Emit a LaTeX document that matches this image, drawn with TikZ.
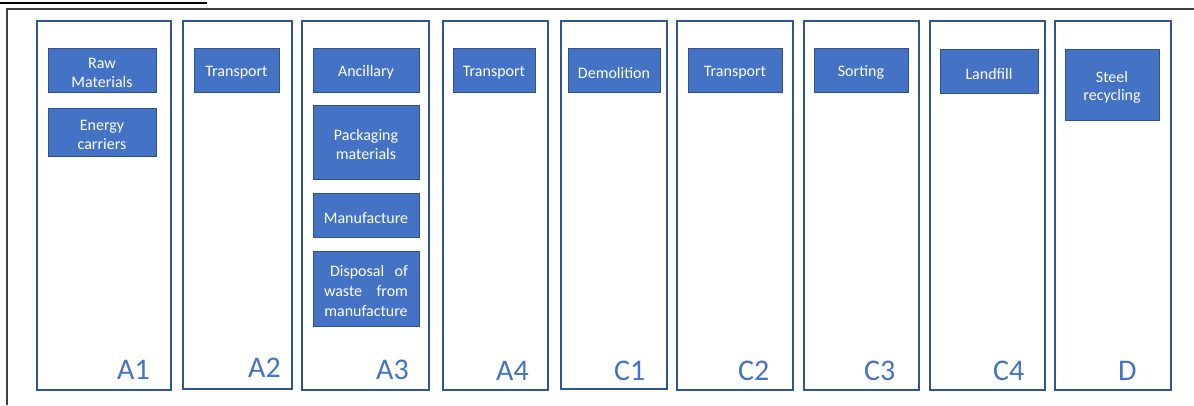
\documentclass[tikz,border=0pt]{standalone}
\usepackage{fontspec}
\setmainfont{Carlito}
\usetikzlibrary{fit}
\definecolor{blkfill}{HTML}{4472C4}
\definecolor{blkline}{HTML}{2F528F}
\definecolor{colline}{HTML}{2F5597}
\definecolor{framegrey}{HTML}{404040}
% strut that lowers a block's text a little
\newcommand{\blkstrut}{\rule{0pt}{16.5pt}}
\begin{document}
\begin{tikzpicture}[x=1pt,y=-1pt,
  stagecol/.style={draw=colline, line width=2pt, inner sep=0pt, fill=white},
  blk/.style={draw=blkline, line width=0.9pt, fill=blkfill, inner sep=0pt,
    text=white, align=center, font=\fontsize{16}{18.5}\selectfont},
  stagelabel/.style={anchor=base west, inner sep=0pt, text=blkfill,
    font=\fontsize{30}{32}\selectfont}]
\useasboundingbox (0,0) rectangle (1194,405);
% page rule and frame
\draw[black, line width=2pt] (0,2.5) -- (207,2.5);
\coordinate (ftl) at (7,9);
\coordinate (ftr) at (1194,9);
\coordinate (fbl) at (7,405);
\draw[framegrey, line width=1.5pt] (fbl) -- (ftl) -- (ftr);
% life-cycle stage columns
\node[stagecol, fit={(37,21) (171,390)}] (cA1) {};
\node[stagecol, fit={(183,21) (292,389)}] (cA2) {};
\node[stagecol, fit={(302,21) (429,390)}] (cA3) {};
\node[stagecol, fit={(443,21) (548,390)}] (cA4) {};
\node[stagecol, fit={(561,21) (667,389)}] (cC1) {};
\node[stagecol, fit={(677,21) (793,390)}] (cC2) {};
\node[stagecol, fit={(804,21) (919,390)}] (cC3) {};
\node[stagecol, fit={(930,21) (1045,390)}] (cC4) {};
\node[stagecol, fit={(1055,21) (1171,390)}] (cD) {};
% stage labels
\node[stagelabel] (lA1) at (117,379) {A1};
\node[stagelabel] (lA2) at (248,377) {A2};
\node[stagelabel] (lA3) at (376,379) {A3};
\node[stagelabel] (lA4) at (496,380) {A4};
\node[stagelabel] (lC1) at (614,380) {C1};
\node[stagelabel] (lC2) at (738,380) {C2};
\node[stagelabel] (lC3) at (864,380) {C3};
\node[stagelabel] (lC4) at (993,380) {C4};
\node[stagelabel] (lD) at (1118,380) {D};
% process blocks
\node[blk, minimum width=108pt, minimum height=44pt] (raw) at (102,70) {\blkstrut Raw\\Materials};
\node[blk, minimum width=108pt, minimum height=48pt] (energy) at (102,132) {\blkstrut Energy\\carriers};
\node[blk, minimum width=85pt, minimum height=44pt] (trA2) at (236.5,70) {\blkstrut Transport};
\node[blk, minimum width=106pt, minimum height=44pt] (ancil) at (366,70) {\blkstrut Ancillary};
\node[blk, minimum width=106pt, minimum height=74pt] (pack) at (366,142) {\blkstrut Packaging\\materials};
\node[blk, minimum width=106pt, minimum height=44pt] (manuf) at (366,215) {\blkstrut Manufacture};
\node[blk, minimum width=106pt, minimum height=75pt, font=\fontsize{16}{20}\selectfont] (disp) at (366,288.5)
  {\blkstrut\makebox[84pt]{\hspace{6pt}Disposal\hfill of}\\
   \makebox[84pt]{waste\hfill from}\\
   \makebox[84pt]{manufacture}};
\node[blk, minimum width=82pt, minimum height=44pt] (trA4) at (494,70) {\blkstrut Transport};
\node[blk, minimum width=92pt, minimum height=44pt] (demol) at (614,70) {\blkstrut Demolition};
\node[blk, minimum width=94pt, minimum height=44pt] (trC2) at (735,70) {\blkstrut Transport};
\node[blk, minimum width=94pt, minimum height=44pt] (sort) at (861,70) {\blkstrut Sorting};
\node[blk, minimum width=98pt, minimum height=44pt] (landf) at (989,71) {\blkstrut Landfill};
\node[blk, minimum width=94pt, minimum height=71pt] (steel) at (1112,84.5) {\blkstrut Steel\\recycling};
\end{tikzpicture}
\end{document}
